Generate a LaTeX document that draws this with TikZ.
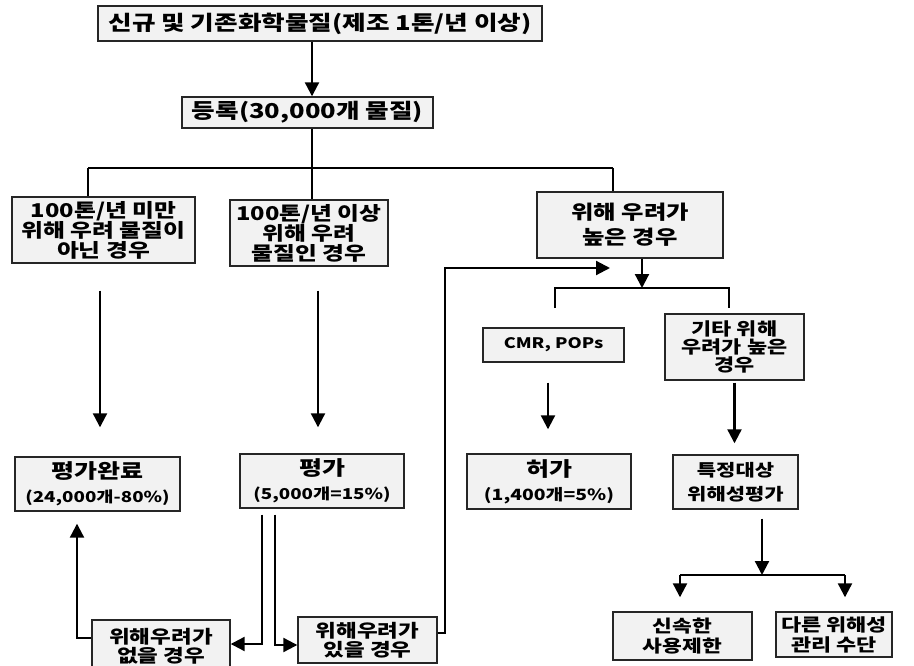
\documentclass[tikz,border=0pt]{standalone}
\usepackage{fontspec}
\setmainfont{Noto Sans CJK KR}[FakeStretch=1.25]
\usetikzlibrary{arrows.meta,calc}
\newcommand{\fs}[2]{\fontsize{#1}{#2}\selectfont}
\tikzset{
  box/.style={draw=black!85, line width=1.4pt, fill=black!5, align=center, inner sep=0pt},
  fz/.style 2 args={font=\fs{#1}{#2}\bfseries},
  ln/.style={line width=2.2pt},
  arr/.style={line width=2.2pt, -{Triangle[width=14pt,length=14pt]}}
}
\begin{document}
\begin{tikzpicture}[x=1pt,y=-1pt]
\useasboundingbox[fill=white] (0,0) rectangle (914,666);
% nodes
\node[box,fz={20.5}{24},minimum width=444pt,minimum height=35pt] (top) at (320,23.5) {신규 및 기존화학물질(제조 1톤/년 이상)};
\node[box,fz={20.5}{24},minimum width=251pt,minimum height=31pt] (reg) at (307.5,112.5) {등록(30,000개 물질)};
\node[box,fz={19}{19.5},minimum width=183pt,minimum height=66pt] (b1) at (103.5,230) {100톤/년 미만\\위해 우려 물질이\\아닌 경우};
\node[box,fz={19}{19.5},minimum width=158pt,minimum height=66pt] (b2) at (309,233) {100톤/년 이상\\위해 우려\\물질인 경우};
\node[box,fz={19.5}{25},minimum width=186pt,minimum height=66pt] (b3) at (630,225) {위해 우려가\\높은 경우};
\node[box,fz={15}{24},minimum width=165pt,minimum height=54pt] (c1) at (97.5,484) {{\fs{20}{24}평가완료}\\(24,000개-80\%)};
\node[box,fz={15}{24},minimum width=164pt,minimum height=54pt] (c2) at (322,481) {{\fs{20}{24}평가}\\(5,000개=15\%)};
\node[box,fz={18}{19},minimum width=138pt,minimum height=52pt] (d1) at (161,646) {위해우려가\\없을 경우};
\node[box,fz={18}{19},minimum width=139pt,minimum height=46pt] (d2) at (367.5,640) {위해우려가\\있을 경우};
\node[box,fz={14.5}{18},minimum width=141pt,minimum height=34pt] (e1) at (553.5,345) {CMR, POPs};
\node[box,fz={17.5}{18},minimum width=139pt,minimum height=66pt] (e2) at (734.5,347) {기타 위해\\우려가 높은\\경우};
\node[box,fz={15.5}{24},minimum width=164pt,minimum height=55pt] (f1) at (549,481.5) {{\fs{20}{24}허가}\\(1,400개=5\%)};
\node[box,fz={16.8}{24},minimum width=125pt,minimum height=54pt] (f2) at (735.5,482) {특정대상\\위해성평가};
\node[box,fz={17.2}{20},minimum width=139pt,minimum height=48pt] (g1) at (682.5,636) {신속한\\사용제한};
\node[box,fz={17.5}{20},minimum width=116pt,minimum height=45pt] (g2) at (834,634.5) {다른 위해성\\관리 수단};
% junction coordinates
\coordinate (j) at (312,168);
\coordinate (jl) at (88,168);
\coordinate (jr) at (613,168);
\coordinate (lp) at (445,268);
\coordinate (lpend) at (610,268);
\coordinate (bk) at (642,288);
\coordinate (bkl) at (555,288);
\coordinate (bkr) at (729,288);
\coordinate (gb) at (762,575);
\coordinate (gbl) at (680,575);
\coordinate (gbr) at (845,575);
% connectors
\draw[arr] ([xshift=4.5pt]reg.north |- top.south) -- ([xshift=4.5pt]reg.north);
\draw[ln] ([xshift=4.5pt]reg.south) -- (j);
\draw[ln] (jl) -- (jr);
\draw[ln] (jl) -- (jl |- b1.north);
\draw[ln] (j) -- (j |- b2.north);
\draw[ln] (jr) -- (jr |- b3.north);
\draw[arr, shorten <=27pt, shorten >=29pt] ([xshift=-3.5pt]b1.south) -- ([xshift=-3.5pt]b1.south |- c1.north);
\draw[arr, shorten <=24pt, shorten >=26pt] ([xshift=9pt]b2.south) -- ([xshift=9pt]b2.south |- c2.north);
\draw[arr, shorten <=6pt] ([xshift=-60pt]c2.south) |- ([yshift=2pt]d1.east);
\draw[arr, shorten <=6pt] ([xshift=-47pt]c2.south) |- ([yshift=-5pt]d2.west);
\draw[arr, shorten >=12pt] ([yshift=8pt]d1.west) -| ([xshift=-20.5pt]c1.south);
\draw[arr] ([yshift=7pt]d2.east) -| (lp) -- (lpend);
\draw[arr] ([xshift=12pt]b3.south) -- (bk);
\draw[ln] ($(bkl)+(0,20)$) -- (bkl) -- (bkr) -- ($(bkr)+(0,20)$);
\draw[arr, shorten <=20pt, shorten >=24pt] ([xshift=-5.5pt]e1.south) -- ([xshift=-5.5pt]e1.south |- f1.north);
\draw[arr, shorten <=2pt, shorten >=11pt] (e2.south) -- (e2.south |- f2.north);
\draw[arr, shorten <=9pt] ([xshift=26.5pt]f2.south) -- (gb);
\draw[ln] (gbl) -- (gbr);
\draw[arr, shorten >=14pt] (gbl) -- (gbl |- g1.north);
\draw[arr, shorten >=14pt] (gbr) -- (gbr |- g2.north);
\end{tikzpicture}
\end{document}
